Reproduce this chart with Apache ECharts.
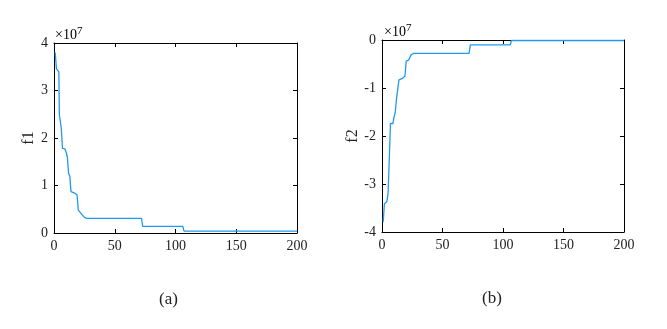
<!DOCTYPE html>
<html><head><meta charset="utf-8">
<script src="https://cdn.jsdelivr.net/npm/echarts@6/dist/echarts.min.js"></script>
<style>html,body{margin:0;padding:0;background:#fff}#c{width:667px;height:329px}</style>
</head><body><div id="c"></div>
<script>
// values in units of 1e7
const iterA = [1,2,3,4,4.4,6,7,9,10,11,12,13,14,17,19,20,21,22,23,25,27,72,73,106,107,200];
const f1 = [3.8,3.46,3.43,3.39,2.5,2.2,1.78,1.77,1.7,1.6,1.25,1.2,0.87,0.84,0.8,0.48,0.47,0.42,0.38,0.33,0.31,0.31,0.14,0.14,0.04,0.04];
const iterB = [1,2,4,5,6,7,9,10,11,12,13,14,17,19,20,22,24,26,72,73,106,107,200];
const f2 = [-3.79,-3.41,-3.37,-3.2,-2.5,-1.74,-1.74,-1.6,-1.5,-1.22,-1.22,-0.83,-0.8,-0.75,-0.44,-0.42,-0.31,-0.28,-0.28,-0.1,-0.1,-0.01,-0.01];
const xTicks = [0,50,100,150,200];
const yTicksA = [0,1,2,3,4];
const yTicksB = [-4,-3,-2,-1,0];

const FONT = '"Liberation Serif","Times New Roman",serif';
const TXT = '#222';
const LINE = '#1E9BF0';
const axisLine = {show:true, onZero:false, lineStyle:{color:'#000', width:1}};
const tick = {show:true, inside:true, length:4, lineStyle:{color:'#000'}};

function xMain(g){return {type:'value', gridIndex:g, position:'bottom', min:0, max:200, interval:50, axisLine, axisTick:tick,
  axisLabel:{color:TXT, fontFamily:FONT, fontSize:14, margin:6}, splitLine:{show:false}};}
function xTop(g){return {type:'value', gridIndex:g, position:'top', min:0, max:200, interval:50, axisLine, axisTick:tick,
  axisLabel:{show:false}, splitLine:{show:false}};}
function yMain(g,min,max,name){return {type:'value', gridIndex:g, position:'left', min, max, interval:1, axisLine, axisTick:tick,
  axisLabel:{color:TXT, fontFamily:FONT, fontSize:14, margin:6}, splitLine:{show:false},
  name, nameLocation:'middle', nameGap:12, nameTextStyle:{color:TXT, fontFamily:FONT, fontSize:16}};}
function yRight(g,min,max){return {type:'value', gridIndex:g, position:'right', min, max, interval:1, axisLine, axisTick:tick,
  axisLabel:{show:false}, splitLine:{show:false}};}

const chart = echarts.init(document.getElementById('c'), null, {renderer:'canvas'});
const expRich = {a:{fontFamily:FONT, fontSize:14, color:TXT}, b:{fontFamily:FONT, fontSize:11, color:TXT, verticalAlign:'top', padding:[0,0,8,0]}};
chart.setOption({
  animation:false,
  grid:[
    {left:54, top:43, width:243, height:190},
    {left:382, top:40, width:242, height:192}
  ],
  xAxis:[xMain(0), xTop(0), xMain(1), xTop(1)],
  yAxis:[yMain(0,0,4,'f1'), yRight(0,0,4), yMain(1,-4,0,'f2'), yRight(1,-4,0)],
  series:[
    {type:'line', xAxisIndex:0, yAxisIndex:0, data:iterA.map((x,i)=>[x,f1[i]]), showSymbol:false,
      lineStyle:{color:LINE, width:1.3}},
    {type:'line', xAxisIndex:2, yAxisIndex:2, data:iterB.map((x,i)=>[x,f2[i]]), showSymbol:false,
      lineStyle:{color:LINE, width:1.3}}
  ],
  graphic:[
    {type:'text', left:55, top:26, style:{text:'{a|×10}{b|7}', rich:expRich}},
    {type:'text', left:384, top:23, style:{text:'{a|×10}{b|7}', rich:expRich}},
    {type:'text', left:159, top:291, style:{text:'(a)', font:'17px '+FONT, fill:TXT}},
    {type:'text', left:482, top:290, style:{text:'(b)', font:'17px '+FONT, fill:TXT}}
  ]
});
</script></body></html>
